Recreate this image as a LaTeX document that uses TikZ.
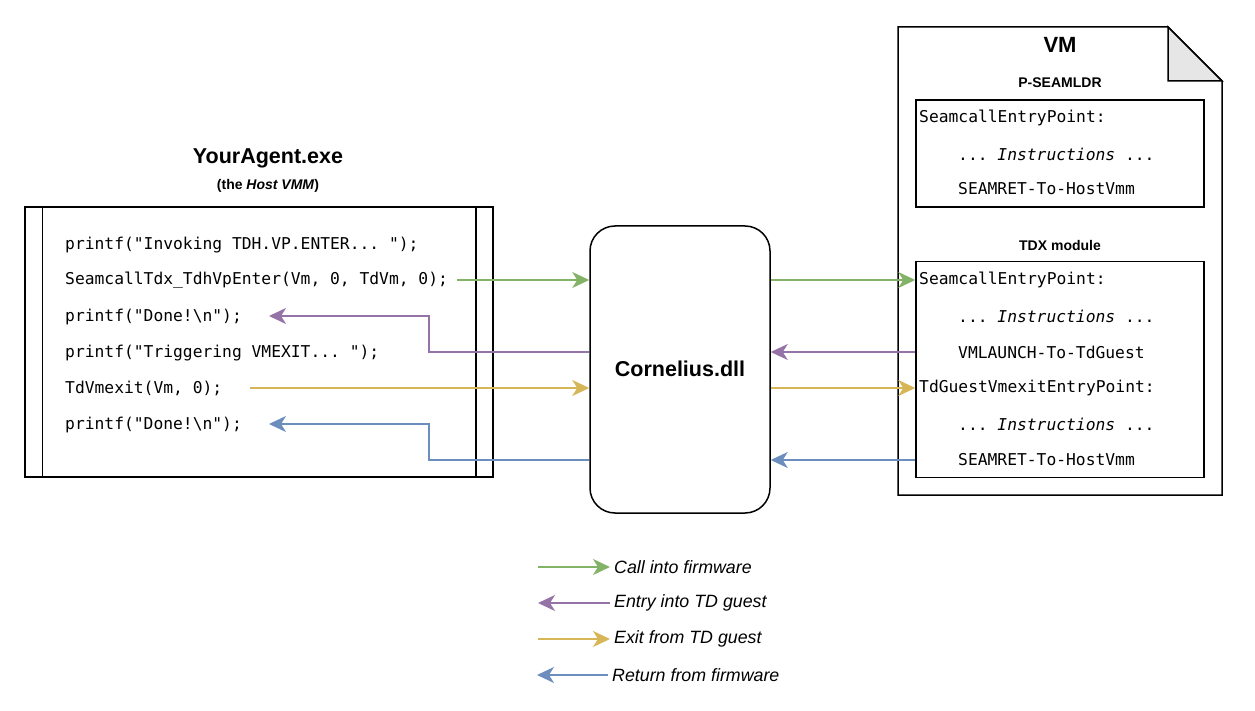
\documentclass[tikz,border=0pt]{standalone}
\usepackage{fontspec}
\setmainfont{Liberation Sans}
\setmonofont{DejaVu Sans Mono}
\usetikzlibrary{arrows.meta}
\definecolor{cgreen}{HTML}{82B366}
\definecolor{cpurple}{HTML}{9673A6}
\definecolor{cyellow}{HTML}{D6B656}
\definecolor{cblue}{HTML}{6C8EBF}
\definecolor{cfold}{HTML}{E6E6E6}
\tikzset{
  box/.style={draw=black, line width=1.5pt, fill=white, inner sep=0pt},
  code/.style={anchor=west, inner sep=0pt, font=\fontsize{16.3}{19}\selectfont\ttfamily},
  ttl/.style={inner sep=0pt, font=\fontsize{21.5}{25}\selectfont\bfseries},
  small/.style={inner sep=0pt, font=\fontsize{14}{16}\selectfont\bfseries},
  leg/.style={anchor=west, inner sep=0pt, font=\fontsize{17.8}{21}\selectfont\itshape},
  conn/.style={line width=1.6pt, -{Stealth[length=17pt,width=16pt,inset=5pt]}},
  gr/.style={conn, draw=cgreen, color=cgreen},
  pu/.style={conn, draw=cpurple, color=cpurple},
  ye/.style={conn, draw=cyellow, color=cyellow},
  bl/.style={conn, draw=cblue, color=cblue},
}
\begin{document}
\begin{tikzpicture}[x=1pt,y=-1pt]
\useasboundingbox (0,0) rectangle (1255,711);

% Left process box
\node[ttl] (tYA) at (268,158) {YourAgent.exe};
\node[small] (tHost) at (268,186) {(the \textit{Host VMM})};
\node[box, minimum width=468pt, minimum height=270pt] (ya) at (259,342) {};
\draw[line width=1.5pt] ([xshift=18pt]ya.north west) -- ([xshift=18pt]ya.south west);
\draw[line width=1.5pt] ([xshift=-18pt]ya.north east) -- ([xshift=-18pt]ya.south east);

\node[code] (l1) at (65,245) {printf("Invoking TDH.VP.ENTER... ");};
\node[code] (l2) at (65,280) {SeamcallTdx\_TdhVpEnter(Vm, 0, TdVm, 0);};
\node[code] (l3) at (65,317) {printf("Done!\textbackslash n");};
\node[code] (l4) at (65,353) {printf("Triggering VMEXIT... ");};
\node[code] (l5) at (65,388) {TdVmexit(Vm, 0);};
\node[code] (l6) at (65,425) {printf("Done!\textbackslash n");};

% Cornelius
\node[box, rounded corners=25pt, minimum width=180pt, minimum height=287pt] (cor) at (680,369.5) {};
\node[ttl] (tcor) at (680,369) {Cornelius.dll};

% VM note
\draw[line width=1.5pt, fill=white] (898,27) -- (1168,27) -- (1222,81) -- (1222,495) -- (898,495) -- cycle;
\draw[line width=1.5pt, fill=cfold, line join=miter] (1168,27) -- (1168,81) -- (1222,81) -- cycle;
\node[inner sep=0pt, font=\fontsize{22}{26}\selectfont\bfseries] (tVM) at (1060,45) {VM};
\node[small] (tPS) at (1060,83) {P-SEAMLDR};
\node[box, minimum width=288pt, minimum height=107pt] (ps) at (1060,153.5) {};
\node[code] (p1) at (919,118) {SeamcallEntryPoint:};
\node[code] (p2) at (958,154) {... \textit{Instructions} ...};
\node[code] (p3) at (958,189) {SEAMRET-To-HostVmm};

\node[small] (tTDX) at (1060,245) {TDX module};
\node[box, minimum width=288pt, minimum height=216pt] (tdx) at (1060,369.5) {};
\node[code] (r1) at (919,280) {SeamcallEntryPoint:};
\node[code] (r2) at (958,316) {... \textit{Instructions} ...};
\node[code] (r3) at (958,352) {VMLAUNCH-To-TdGuest};
\node[code] (r4) at (919,388) {TdGuestVmexitEntryPoint:};
\node[code] (r5) at (958,424) {... \textit{Instructions} ...};
\node[code] (r6) at (958,460) {SEAMRET-To-HostVmm};

% connectors, left side
\coordinate (gs) at (457,280);
\coordinate (ys) at (250,388);
\coordinate (bx) at (429,0);
\coordinate (pt) at (269,316);
\coordinate (bt) at (269,424);
\draw[gr] (gs) -- (gs -| cor.west);
\draw[pu] (cor.west |- r3) -- (bx |- r3) |- (pt);
\draw[ye] (ys) -- (ys -| cor.west);
\draw[bl] (cor.west |- r6) -- (bx |- r6) |- (bt);

% connectors, right side
\draw[gr] (cor.east |- r1) -- (tdx.west |- r1);
\draw[pu] (tdx.west |- r3) -- (cor.east |- r3);
\draw[ye] (cor.east |- r4) -- (tdx.west |- r4);
\draw[bl] (tdx.west |- r6) -- (cor.east |- r6);

% legend
\coordinate (a1) at (538,567); \coordinate (b1) at (610,567);
\coordinate (a2) at (538,603); \coordinate (b2) at (610,603);
\coordinate (a3) at (538,639); \coordinate (b3) at (610,639);
\coordinate (a4) at (537,675); \coordinate (b4) at (608,675);
\draw[gr] (a1) -- (b1);
\draw[pu] (b2) -- (a2);
\draw[ye] (a3) -- (b3);
\draw[bl] (b4) -- (a4);
\node[leg] (g1) at (614,567) {Call into firmware};
\node[leg] (g2) at (614,603) {Entry into TD guest};
\node[leg] (g3) at (614,639) {Exit from TD guest};
\node[leg] (g4) at (612,675) {Return from firmware};
\end{tikzpicture}
\end{document}
